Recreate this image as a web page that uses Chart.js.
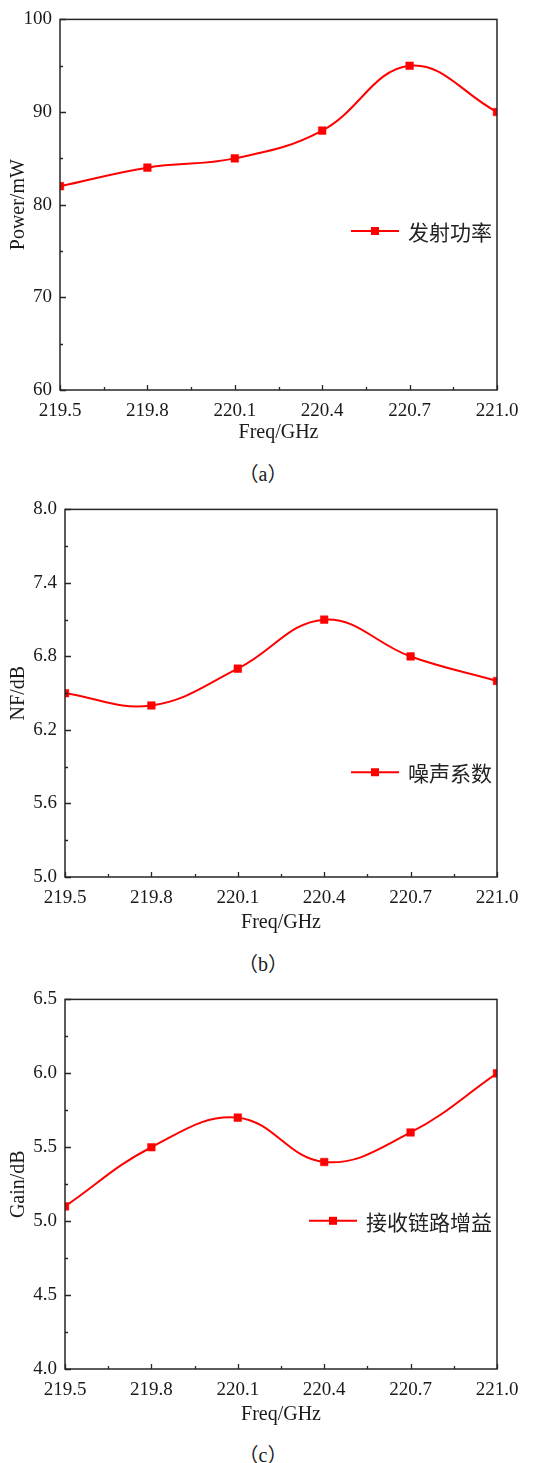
<!DOCTYPE html>
<html>
<head>
<meta charset="utf-8">
<script src="https://cdn.jsdelivr.net/npm/chart.js@4.4.1/dist/chart.umd.min.js"></script>
<style>
  html, body { margin: 0; padding: 0; background: #fff; }
  body { width: 554px; height: 1463px; position: relative; overflow: hidden; }
  .panel { position: absolute; left: 0; width: 554px; height: 450px; }
  .cap {
    position: absolute; left: 0; width: 526px; height: 24px; line-height: 24px;
    text-align: center; color: #1a1a1a;
    font: 20px "Liberation Serif", "Noto Sans CJK SC", serif;
  }
</style>
</head>
<body>
<div class="panel" style="top:0px"><canvas id="chartPower"></canvas></div>
<div class="cap" style="top:458px">（a）</div>
<div class="panel" style="top:490px"><canvas id="chartNF"></canvas></div>
<div class="cap" style="top:948px">（b）</div>
<div class="panel" style="top:980px"><canvas id="chartGain"></canvas></div>
<div class="cap" style="top:1439px">（c）</div>

<script>
// Frequency sweep (GHz) shared by the three measurements
const freqGHz = [219.5, 219.8, 220.1, 220.4, 220.7, 221.0];
const freqTicks = [219.5, 219.8, 220.1, 220.4, 220.7, 221.0];

// (a) transmit power
const powerMW = [82, 84, 85, 88, 95, 90];
const powerTicks = [60, 70, 80, 90, 100];

// (b) noise figure
const noiseFigureDB = [6.5, 6.4, 6.7, 7.1, 6.8, 6.6];
const nfTicks = [5.0, 5.6, 6.2, 6.8, 7.4, 8.0];

// (c) receive chain gain
const gainDB = [5.1, 5.5, 5.7, 5.4, 5.6, 6.0];
const gainTicks = [4.0, 4.5, 5.0, 5.5, 6.0, 6.5];

const seriesNames = ['发射功率', '噪声系数', '接收链路增益'];
const yTitles = ['Power/mW', 'NF/dB', 'Gain/dB'];
const xTitle = 'Freq/GHz';

const INK = '#1a1a1a';
const RED = '#ff0000';
Chart.defaults.font.family = '"Liberation Serif", "Times New Roman", serif';
Chart.defaults.color = INK;

// Box frame plus inward major/minor tick marks on the bottom and left axes
const framePlugin = {
  id: 'frame',
  afterDatasetsDraw(chart) {
    const { ctx, chartArea: a, scales: { x, y } } = chart;
    ctx.save();
    ctx.strokeStyle = '#262626';
    ctx.lineWidth = 1.3;
    ctx.beginPath();
    const xv = x.ticks.map(t => t.value);
    xv.forEach((v, i) => {
      const px = Math.round(x.getPixelForValue(v)) + 0.5;
      ctx.moveTo(px, a.bottom); ctx.lineTo(px, a.bottom - 5);
      if (i < xv.length - 1) {
        const m = Math.round(x.getPixelForValue((v + xv[i + 1]) / 2)) + 0.5;
        ctx.moveTo(m, a.bottom); ctx.lineTo(m, a.bottom - 3);
      }
    });
    const yv = y.ticks.map(t => t.value);
    yv.forEach((v, i) => {
      const py = Math.round(y.getPixelForValue(v)) + 0.5;
      ctx.moveTo(a.left, py); ctx.lineTo(a.left + 6, py);
      if (i < yv.length - 1) {
        const m = Math.round(y.getPixelForValue((v + yv[i + 1]) / 2)) + 0.5;
        ctx.moveTo(a.left, m); ctx.lineTo(a.left + 3, m);
      }
    });
    ctx.stroke();
    ctx.lineWidth = 1.5;
    ctx.strokeRect(a.left, a.top, a.width, a.height);
    ctx.restore();
  }
};

// Legend drawn inside the plot, right-aligned, at a fraction of the plot height
const insideLegend = {
  id: 'insideLegend',
  afterDraw(chart, args, opts) {
    const { ctx, chartArea: a } = chart;
    const ds = chart.data.datasets[0];
    ctx.save();
    ctx.font = '21px "Noto Sans CJK SC", sans-serif';
    ctx.textBaseline = 'middle';
    const tw = ctx.measureText(ds.label).width;
    const ty = a.top + a.height * opts.yFrac;
    const tx = a.right - 5 - tw;
    const x1 = tx - 9, x0 = x1 - 48;
    ctx.strokeStyle = ds.borderColor;
    ctx.lineWidth = 2;
    ctx.beginPath(); ctx.moveTo(x0, ty); ctx.lineTo(x1, ty); ctx.stroke();
    ctx.fillStyle = ds.pointBackgroundColor;
    const s = 8;
    ctx.fillRect((x0 + x1) / 2 - s / 2, ty - s / 2, s, s);
    ctx.fillStyle = '#222';
    ctx.fillText(ds.label, tx, ty + 1);
    ctx.restore();
  }
};

function makeChart(id, values, yTicks, decimals, yTitle, name, geo) {
  return new Chart(document.getElementById(id), {
    type: 'line',
    data: {
      datasets: [{
        label: name,
        data: freqGHz.map((f, i) => ({ x: f, y: values[i] })),
        borderColor: RED,
        backgroundColor: RED,
        pointBackgroundColor: RED,
        pointBorderColor: RED,
        borderWidth: 2,
        pointStyle: 'rect',
        pointRadius: 5.4,
        pointBorderWidth: 0.5,
        tension: 0.4,
        fill: false
      }]
    },
    options: {
      responsive: true,
      maintainAspectRatio: false,
      devicePixelRatio: 1,
      animation: false,
      events: [],
      layout: { padding: { left: 0, right: 57, top: geo.top, bottom: 0 } },
      plugins: {
        legend: { display: false },
        tooltip: { enabled: false },
        insideLegend: { yFrac: geo.legendY }
      },
      scales: {
        x: {
          type: 'linear',
          min: freqTicks[0],
          max: freqTicks[freqTicks.length - 1],
          afterBuildTicks: s => { s.ticks = freqTicks.map(v => ({ value: v })); },
          afterFit: s => { s.height = geo.xh; },
          grid: { display: false, drawTicks: false },
          border: { display: false },
          ticks: {
            autoSkip: false, maxRotation: 0, padding: 10,
            font: { size: 19 }, color: INK,
            callback: v => Number(v).toFixed(1)
          },
          title: {
            display: true, text: xTitle, color: INK,
            font: { size: 20 }, padding: { top: 0, bottom: geo.xtPad }
          }
        },
        y: {
          type: 'linear',
          min: yTicks[0],
          max: yTicks[yTicks.length - 1],
          afterBuildTicks: s => { s.ticks = yTicks.map(v => ({ value: v })); },
          afterFit: s => { s.width = geo.left; },
          grid: { display: false, drawTicks: false },
          border: { display: false },
          ticks: {
            autoSkip: false, padding: 8,
            font: { size: 19 }, color: INK,
            callback: v => Number(v).toFixed(decimals)
          },
          title: {
            display: true, text: yTitle, color: INK,
            font: { size: 20 }, padding: { top: 7, bottom: 0 }
          }
        }
      }
    },
    plugins: [framePlugin, insideLegend]
  });
}

makeChart('chartPower', powerMW, powerTicks, 0, yTitles[0], seriesNames[0],
  { top: 17, left: 60, xh: 60, xtPad: 5, legendY: 0.571 });
makeChart('chartNF', noiseFigureDB, nfTicks, 1, yTitles[1], seriesNames[1],
  { top: 17, left: 65, xh: 63, xtPad: 5, legendY: 0.715 });
makeChart('chartGain', gainDB, gainTicks, 1, yTitles[2], seriesNames[2],
  { top: 19, left: 65, xh: 61, xtPad: 3, legendY: 0.599 });
</script>
</body>
</html>
